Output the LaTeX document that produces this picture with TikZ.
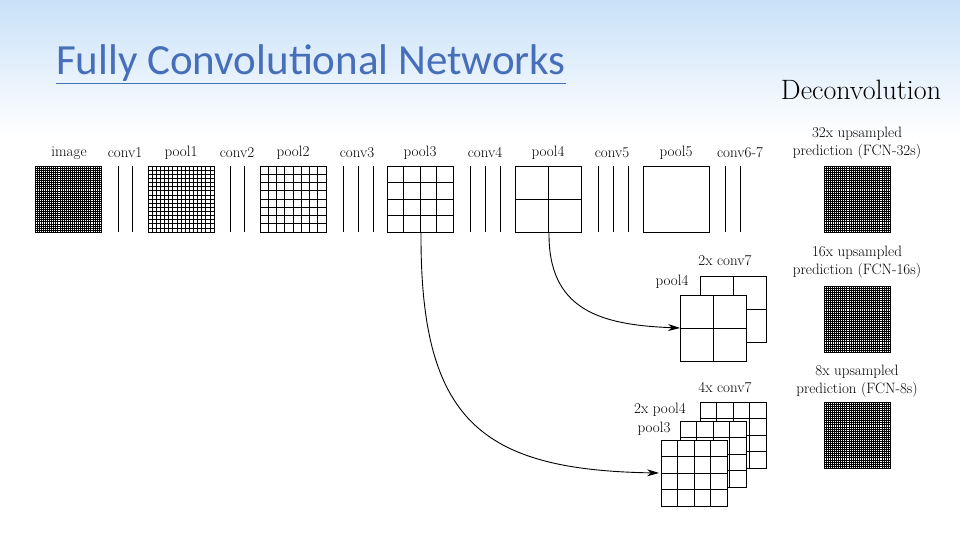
\documentclass[tikz,border=0pt]{standalone}
\usepackage{fontspec}
\newfontfamily\carl{Carlito}
\definecolor{titleblue}{RGB}{70,110,185}
\definecolor{sky}{RGB}{200,225,248}
\begin{document}
\begin{tikzpicture}[x=1pt,y=-1pt,
  lbl/.style={font=\fontsize{15}{17}\selectfont,inner sep=0pt},
  gridsq/.style={draw=black,fill=white,line width=0.8pt},
  arr/.style={-{Stealth[length=12pt,width=7pt]},line width=0.9pt}]
\usetikzlibrary{arrows.meta}
\useasboundingbox (0,0) rectangle (960,540);
\shade[top color=sky,bottom color=white] (0,0) rectangle (960,135);
\newcommand{\gsq}[4]{% x y size n
  \draw[gridsq] (#1,#2) rectangle ++(66,66);
  \pgfmathsetmacro{\st}{66/#4}
  \foreach \i in {1,...,#3}{\draw[line width=0.6pt] (#1+\i*\st,#2) -- ++(0,66); \draw[line width=0.6pt] (#1,#2+\i*\st) -- ++(66,0);}}
\newcommand{\dense}[2]{\draw[gridsq] (#1,#2) rectangle ++(66,66);
  \foreach \i in {1,...,31}{\draw[line width=0.5pt] (#1+\i*2.0625,#2) -- ++(0,66); \draw[line width=0.5pt] (#1,#2+\i*2.0625) -- ++(66,0);}}
\node[anchor=west,text=titleblue,font=\carl\fontsize{43}{46}\selectfont,inner sep=0pt] (title) at (56,64) {\underline{Fully Convolutional Networks}};
\node[font=\fontsize{28}{32}\selectfont,inner sep=0pt] (dec) at (861,90) {Deconvolution};
% labels
\foreach \t/\x in {image/69,conv1/125,pool1/181,conv2/237,pool2/293,conv3/357,pool3/420,conv4/485,pool4/548,conv5/612,pool5/676,conv6-7/740}
  \node[lbl] (l-\t) at (\x,153) {\t};
\dense{35}{166}
\foreach \x in {118,132,230,244,343,358,373,470,485,500,598,613,628,725,740} \draw[line width=0.8pt] (\x,166) -- (\x,232);
\gsq{148}{166}{15}{16}
\gsq{260}{166}{7}{8}
\gsq{387}{166}{3}{4}
\gsq{515}{166}{1}{2}
\draw[gridsq] (643,166) rectangle ++(66,66);
\coordinate (p3) at (421,232);
\coordinate (p4) at (549,232);
% outputs
\dense{824}{166}\dense{824}{286}\dense{824}{402}
\node[lbl] (o1) at (857,134) {32x upsampled};
\node[lbl] (o1b) at (857,152) {prediction (FCN-32s)};
\node[lbl] (o2) at (857,253) {16x upsampled};
\node[lbl] (o2b) at (857,271) {prediction (FCN-16s)};
\node[lbl] (o3) at (857,372) {8x upsampled};
\node[lbl] (o3b) at (857,390) {prediction (FCN-8s)};
% 2x stack
\gsq{700}{276}{1}{2}
\gsq{680}{295}{1}{2}
\node[lbl] (s1) at (725,261) {2x conv7};
\node[lbl] (s2) at (672,282) {pool4};
\coordinate (t1) at (680,328);
% 4x stack
\gsq{700}{402}{3}{4}
\gsq{680}{421}{3}{4}
\gsq{661}{440}{3}{4}
\node[lbl] (s3) at (725,388) {4x conv7};
\node[lbl] (s4) at (660,410) {2x pool4};
\node[lbl] (s5) at (654,429) {pool3};
\coordinate (t2) at (659,473);
\draw[arr] (p4) .. controls (548,310) and (600,325) .. (t1);
\draw[arr] (p3) .. controls (420,420) and (480,470) .. (t2);
\end{tikzpicture}
\end{document}
